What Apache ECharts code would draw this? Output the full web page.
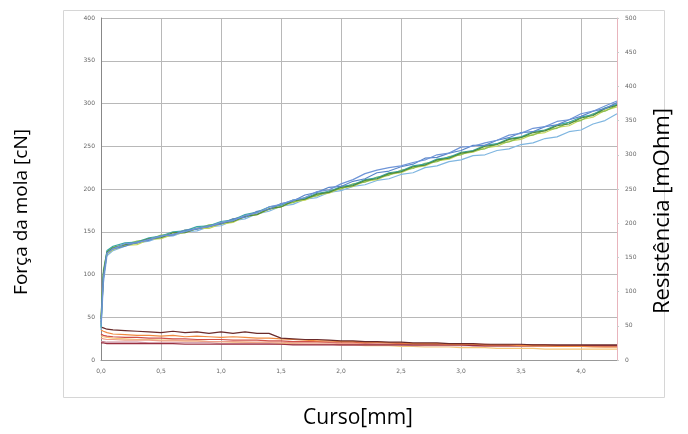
<!DOCTYPE html>
<html>
<head>
<meta charset="utf-8">
<script src="https://cdn.jsdelivr.net/npm/echarts@6/dist/echarts.min.js"></script>
<style>
  html, body { margin: 0; padding: 0; background: #fff; }
  #main { width: 688px; height: 434px; }
</style>
</head>
<body>
<div id="main"></div>
<script>
// curso [mm]
const curso = [0, 0.02, 0.05, 0.1, 0.2, 0.3, 0.4, 0.5, 0.6, 0.7,
  0.8, 0.9, 1.0, 1.1, 1.2, 1.3, 1.4, 1.5, 1.6, 1.7,
  1.8, 1.9, 2.0, 2.1, 2.2, 2.3, 2.4, 2.5, 2.6, 2.7,
  2.8, 2.9, 3.0, 3.1, 3.2, 3.3, 3.4, 3.5, 3.6, 3.7,
  3.8, 3.9, 4.0, 4.1, 4.2, 4.3];

// força da mola [cN] (eixo esquerdo)
const forca1 = [40, 95, 125, 130, 136, 137, 141, 145, 147, 150, 154, 156, 161, 163, 169, 172, 179, 182, 187, 190, 197, 199, 206, 211, 218, 222, 225, 227, 231, 234, 240, 242, 249, 250, 254, 257, 263, 265, 271, 273, 279, 281, 288, 291, 297, 303];
const forca2 = [35, 90, 122, 128, 133, 137, 139, 144, 145, 150, 151, 156, 157, 163, 165, 171, 174, 180, 182, 188, 190, 196, 198, 203, 205, 210, 212, 217, 219, 225, 227, 232, 234, 239, 240, 245, 247, 252, 254, 259, 261, 267, 269, 276, 280, 288];
const forca3 = [50, 105, 127, 132, 135, 139, 141, 146, 147, 152, 153, 158, 159, 165, 167, 173, 176, 182, 184, 190, 192, 198, 200, 206, 208, 214, 216, 222, 224, 230, 232, 238, 240, 245, 247, 253, 255, 261, 263, 269, 271, 278, 280, 288, 291, 298];
const forca4 = [42, 98, 124, 129, 134, 135, 141, 142, 147, 149, 154, 154, 159, 161, 168, 170, 176, 179, 185, 187, 193, 195, 201, 203, 209, 211, 217, 219, 225, 227, 233, 235, 241, 243, 248, 250, 256, 258, 264, 266, 272, 274, 281, 284, 292, 296];
const forca5 = [38, 102, 128, 133, 137, 138, 143, 145, 150, 151, 156, 157, 162, 164, 170, 173, 179, 181, 187, 189, 195, 197, 203, 205, 211, 213, 219, 221, 227, 229, 235, 237, 243, 245, 251, 253, 259, 261, 267, 269, 275, 278, 284, 287, 295, 299];
const forca6 = [44, 96, 125, 130, 133, 138, 140, 145, 146, 152, 153, 157, 159, 165, 167, 174, 176, 183, 186, 193, 196, 202, 203, 209, 212, 219, 221, 226, 229, 236, 237, 242, 245, 251, 251, 257, 260, 266, 267, 273, 275, 281, 285, 291, 294, 301];
const forca7 = [48, 101, 126, 131, 135, 137, 142, 143, 149, 149, 154, 156, 160, 162, 168, 170, 177, 179, 186, 188, 194, 196, 202, 204, 210, 212, 218, 220, 226, 228, 234, 236, 242, 244, 250, 252, 258, 260, 266, 268, 274, 276, 283, 286, 294, 298];

// resistência [mOhm] (eixo direito)
const resist1 = [48, 47, 45, 44, 43, 42, 41, 40, 42, 40, 41, 39, 41, 39, 41, 39, 39, 32, 31, 30, 30, 29, 28, 28, 27, 27, 26, 26, 25, 25, 25, 24, 24, 24, 23, 23, 23, 23, 22, 22, 22, 22, 22, 22, 22, 22];
const resist2 = [44, 42, 40, 38, 37, 36, 36, 35, 36, 34, 35, 34, 33, 34, 33, 32, 32, 31, 30, 29, 28, 28, 27, 27, 26, 26, 25, 25, 24, 24, 24, 23, 23, 23, 22, 22, 22, 21, 21, 21, 20, 20, 20, 19, 19, 19];
const resist3 = [38, 36, 35, 34, 33, 33, 32, 32, 31, 31, 30, 30, 30, 29, 29, 29, 28, 28, 27, 27, 27, 26, 26, 26, 25, 25, 25, 24, 24, 24, 24, 23, 23, 23, 23, 22, 22, 22, 22, 22, 21, 21, 21, 21, 21, 21];
const resist4 = [32, 31, 30, 30, 29, 29, 29, 28, 28, 28, 28, 27, 27, 27, 26, 26, 26, 26, 25, 25, 25, 25, 24, 24, 24, 23, 23, 23, 23, 22, 22, 22, 22, 21, 21, 21, 21, 21, 20, 20, 20, 20, 20, 20, 19, 19];
const resist5 = [27, 27, 26, 26, 26, 26, 25, 25, 25, 25, 25, 25, 24, 24, 24, 24, 24, 23, 23, 23, 23, 23, 22, 22, 22, 22, 22, 22, 21, 21, 21, 21, 21, 21, 20, 20, 20, 20, 20, 20, 20, 20, 20, 20, 20, 20];
const resist6 = [25, 25, 24, 24, 24, 24, 24, 24, 24, 23, 23, 23, 23, 23, 23, 23, 23, 23, 22, 22, 22, 22, 22, 22, 22, 22, 22, 22, 22, 22, 22, 22, 22, 21, 21, 21, 21, 21, 21, 21, 21, 21, 21, 21, 21, 21];
const resist7 = [35, 34, 33, 32, 31, 30, 30, 29, 29, 28, 28, 27, 27, 26, 26, 25, 25, 24, 24, 23, 23, 23, 22, 22, 21, 21, 21, 20, 20, 19, 19, 19, 18, 18, 18, 17, 17, 17, 17, 16, 16, 16, 16, 16, 16, 16];

const forcas = [
  [forca2, '#7fb6e0'], [forca4, '#c3d65a'], [forca3, '#8cbf4f'], [forca5, '#3aa6a6'],
  [forca7, '#4e8a3e'], [forca6, '#5b86c9'], [forca1, '#6f95d8']
];
const resists = [
  [resist7, '#f5c77a'], [resist5, '#c98a9a'], [resist4, '#eea08a'], [resist3, '#d0504a'],
  [resist6, '#9a3040'], [resist2, '#f08a40'], [resist1, '#6a2a2a']
];

const pares = (ys) => curso.map((x, i) => [x, ys[i]]);

const series = [];
resists.forEach(([ys, cor]) => series.push({
  type: 'line', yAxisIndex: 1, data: pares(ys), showSymbol: false,
  lineStyle: { color: cor, width: 1.2 }, silent: true
}));
forcas.forEach(([ys, cor]) => series.push({
  type: 'line', yAxisIndex: 0, data: pares(ys), showSymbol: false,
  lineStyle: { color: cor, width: 1.2 }, silent: true
}));

const chart = echarts.init(document.getElementById('main'));
const rotulo = { fontSize: 6, color: '#666', fontFamily: 'DejaVu Sans' };

chart.setOption({
  animation: false,
  grid: { left: 101, right: 71, top: 18, bottom: 74 },
  xAxis: {
    type: 'value', min: 0, max: 4.3, interval: 0.5,
    axisLine: { show: true, lineStyle: { color: '#999' } },
    axisTick: { show: false },
    splitLine: { show: true, lineStyle: { color: '#b8b8b8' } },
    axisLabel: Object.assign({ margin: 8, showMaxLabel: false,
      formatter: v => v.toFixed(1).replace('.', ',') }, rotulo)
  },
  yAxis: [
    {
      type: 'value', min: 0, max: 400, interval: 50,
      axisLine: { show: true, lineStyle: { color: '#888' } },
      axisTick: { show: false },
      splitLine: { show: true, lineStyle: { color: '#b8b8b8' } },
      axisLabel: Object.assign({ margin: 6 }, rotulo)
    },
    {
      type: 'value', min: 0, max: 500, interval: 50, position: 'right',
      axisLine: { show: true, lineStyle: { color: '#e8b4bc' } },
      axisTick: { show: true, length: 2, lineStyle: { color: '#ccc' } },
      splitLine: { show: false },
      axisLabel: Object.assign({ margin: 8 }, rotulo)
    }
  ],
  graphic: [
    { type: 'rect', left: 61, top: 8, silent: true, z: -10,
      shape: { width: 601, height: 387 },
      style: { fill: 'none', stroke: '#d6d6d6', lineWidth: 1 } },
    { type: 'text', x: 22, y: 212, rotation: Math.PI / 2,
      style: { text: 'Força da mola [cN]', fontSize: 19, fontFamily: 'Open Sans',
        fill: '#000', align: 'center', verticalAlign: 'middle' } },
    { type: 'text', x: 663, y: 211, rotation: Math.PI / 2,
      style: { text: 'Resistência [mOhm]', fontSize: 22, fontFamily: 'Open Sans',
        fill: '#000', align: 'center', verticalAlign: 'middle' } },
    { type: 'text', x: 358, y: 418,
      style: { text: 'Curso[mm]', fontSize: 21, fontFamily: 'Open Sans',
        fill: '#000', align: 'center', verticalAlign: 'middle' } }
  ],
  series: series
});
</script>
</body>
</html>
